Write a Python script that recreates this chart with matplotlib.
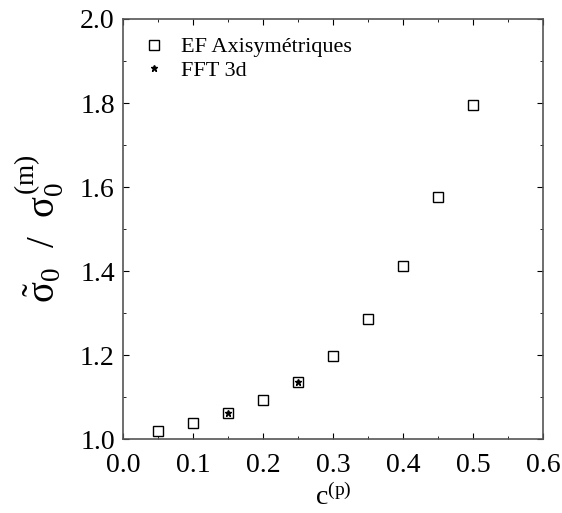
import matplotlib
matplotlib.use("Agg")
import matplotlib.pyplot as plt
from matplotlib.ticker import MultipleLocator

plt.rcParams["font.family"] = ["Liberation Serif", "DejaVu Serif"]
plt.rcParams["mathtext.fontset"] = "custom"
plt.rcParams["mathtext.rm"] = "Liberation Serif"
plt.rcParams["mathtext.it"] = "Liberation Serif"

# EF axisymmetric results
ef_c = [0.05, 0.10, 0.15, 0.20, 0.25, 0.30, 0.35, 0.40, 0.45, 0.50]
ef_ratio = [1.019, 1.038, 1.062, 1.093, 1.135, 1.197, 1.286, 1.411, 1.576, 1.795]

# FFT 3d results
fft_c = [0.15, 0.25]
fft_ratio = [1.062, 1.137]

fig = plt.figure(figsize=(5.62, 5.13), dpi=100)
ax = fig.add_axes([0.219, 0.144, 0.747, 0.819])

ax.plot(ef_c, ef_ratio, linestyle="none", marker="s", markersize=7.5,
        markerfacecolor="white", markeredgecolor="black", markeredgewidth=1.0,
        label="EF Axisymétriques")
ax.plot(fft_c, fft_ratio, linestyle="none", marker="*", markersize=5,
        color="black", label="FFT 3d")

ax.set_xlim(0.0, 0.6)
ax.set_ylim(1.0, 2.0)
ax.xaxis.set_major_locator(MultipleLocator(0.1))
ax.xaxis.set_minor_locator(MultipleLocator(0.05))
ax.yaxis.set_major_locator(MultipleLocator(0.2))
ax.yaxis.set_minor_locator(MultipleLocator(0.1))
ax.xaxis.set_major_formatter(lambda v, p: f"{v:.1f}")
ax.yaxis.set_major_formatter(lambda v, p: f"{v:.1f}")
ax.tick_params(which="both", direction="in", top=True, right=True,
               labelsize=20, pad=6)
ax.tick_params(axis="x", which="major", pad=10)
ax.tick_params(which="major", length=4)
ax.tick_params(which="minor", length=2)
for s in ax.spines.values():
    s.set_color("#555555")
    s.set_linewidth(1.2)

ax.set_xlabel(r"c$^{\mathrm{(p)}}$", fontsize=20, labelpad=4)
ax.set_ylabel(r"$\tilde{\sigma}_0$  /  $\sigma_0^{(\mathrm{m})}$", fontsize=28, labelpad=10)

ax.legend(loc="upper left", frameon=False, fontsize=16, handletextpad=0.6,
          borderaxespad=0.4, labelspacing=0.15, handlelength=1.2)

fig.savefig("out.png", dpi=100)
